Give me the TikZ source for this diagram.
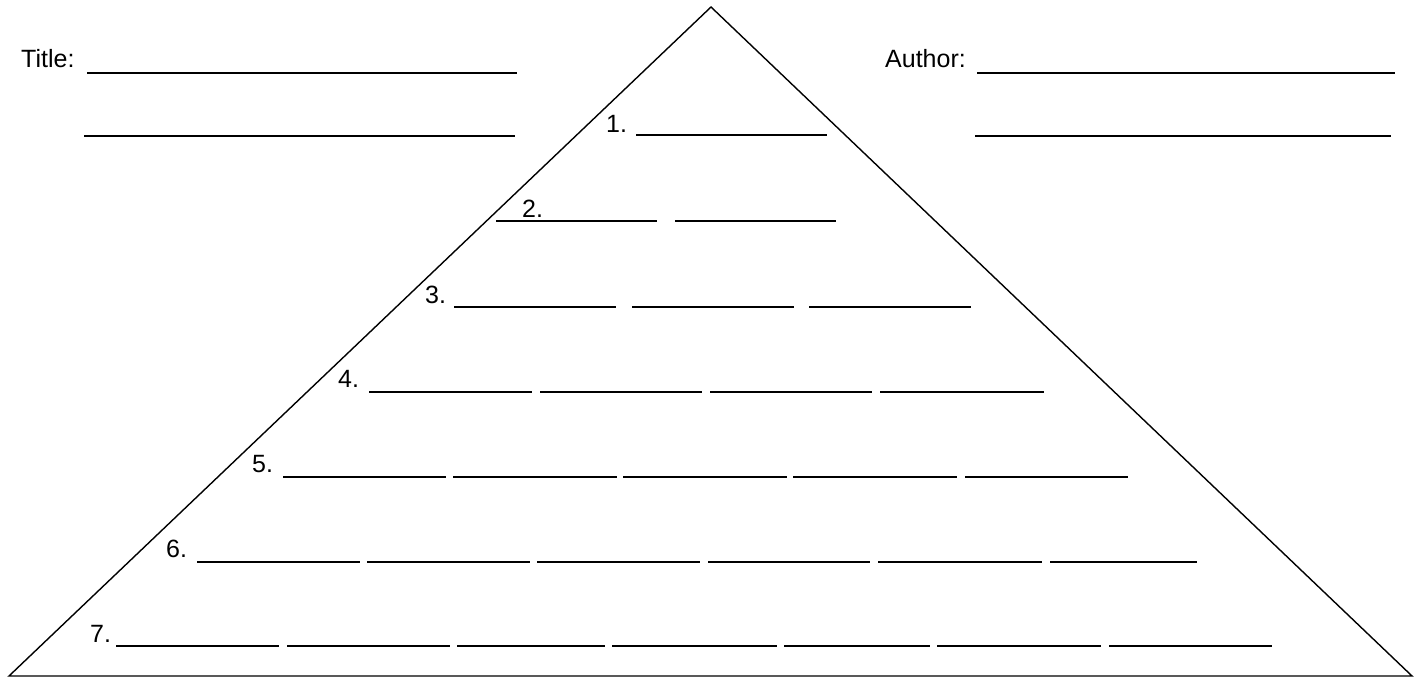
\documentclass[tikz,border=0pt]{standalone}
\usepackage{fontspec}
\setmainfont{Liberation Sans}
\begin{document}
\begin{tikzpicture}[x=1pt,y=-1pt,
  blank/.style={line width=2pt},
  edge/.style={line width=1.4pt, line join=miter},
  lbl/.style={anchor=base west, inner sep=0pt, font=\fontsize{25}{30}\selectfont}]
\useasboundingbox (0,0) rectangle (1418,682);
% triangle
\coordinate (apex) at (711,7);
\coordinate (bl) at (9,676);
\coordinate (br) at (1412,676);
\draw[edge] (bl) -- (apex) -- (br) -- cycle;
% title / author
\node[lbl] (title) at (21,68) {Title:};
\node[lbl] (author) at (885,68) {Author:};
\draw[blank] (87,73) -- (517,73);
\draw[blank] (84,136) -- (515,136);
\draw[blank] (977,73) -- (1395,73);
\draw[blank] (975,136) -- (1391,136);
% row labels
\node[lbl] (n1) at (606,132) {1.};
\node[lbl] (n2) at (522,217) {2.};
\node[lbl] (n3) at (425,303) {3.};
\node[lbl] (n4) at (338,387) {4.};
\node[lbl] (n5) at (252,472) {5.};
\node[lbl] (n6) at (166,557) {6.};
\node[lbl] (n7) at (90,642) {7.};
% row blanks
\draw[blank] (636,135) -- (827,135);
\foreach \a/\b in {496/657,675/836} \draw[blank] (\a,221) -- (\b,221);
\foreach \a/\b in {454/616,632/794,809/971} \draw[blank] (\a,307) -- (\b,307);
\foreach \a/\b in {369/532,540/702,710/872,880/1044} \draw[blank] (\a,392) -- (\b,392);
\foreach \a/\b in {283/446,453/617,623/787,793/957,965/1128} \draw[blank] (\a,477) -- (\b,477);
\foreach \a/\b in {197/360,367/530,537/700,708/870,878/1042,1050/1197} \draw[blank] (\a,562) -- (\b,562);
\foreach \a/\b in {116/279,287/450,457/605,612/777,784/930,937/1101,1109/1272} \draw[blank] (\a,646) -- (\b,646);
\end{tikzpicture}
\end{document}
